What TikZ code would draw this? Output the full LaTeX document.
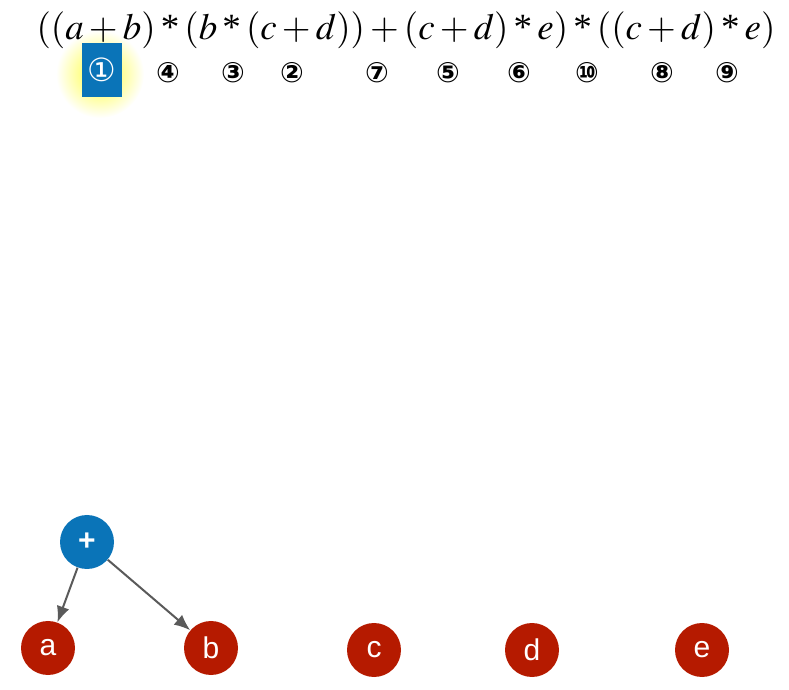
\documentclass[tikz,border=0pt]{standalone}
\usepackage{mathptmx}
\usepackage[no-math]{fontspec}
\setmainfont{Liberation Serif}
\newfontfamily\sansf{Liberation Sans}
\newfontfamily\dejavu{DejaVu Sans}
\usepackage{tikz}
\usetikzlibrary{arrows.meta}
\definecolor{opblue}{HTML}{0A74B8}
\definecolor{leafred}{HTML}{B51A00}
\definecolor{edgegray}{HTML}{5A5A5A}
\newcommand{\st}{\mathbin{\mbox{*}}}

\begin{document}
\begin{tikzpicture}[>={Latex[length=8pt,width=6.5pt]},x=0.5pt,y=-0.5pt,
    leaf/.style={circle,fill=leafred,text=white,minimum size=27pt,inner sep=0pt,font=\sansf\fontsize{15}{15}\selectfont},
    op/.style={circle,fill=opblue,text=white,minimum size=27pt,inner sep=0pt,font=\sansf\bfseries\fontsize{15}{15}\selectfont},
    order/.style={font=\dejavu\bfseries\fontsize{14}{14}\selectfont,inner sep=0pt}]
        \useasboundingbox (0,0) rectangle (789,690);

        % expression and evaluation order
        \shade[inner color=yellow!80,outer color=white] (100,74) circle (44);
        \node[font=\fontsize{18.5}{18.5}\selectfont,inner sep=0pt] (expr) at (406,30)
        {$((a+b)\st(b\st(c+d))+(c+d)\st e)\st((c+d)\st e)$};
        \node[fill=opblue,text=white,minimum width=20pt,minimum height=27pt,inner sep=0pt,
        font=\dejavu\fontsize{16}{16}\selectfont] (o1) at (102,70) {①};
        \node[order] (o4) at (168,73) {④};
        \node[order] (o3) at (233,73) {③};
        \node[order] (o2) at (292,73) {②};
        \node[order] (o7) at (377,73) {⑦};
        \node[order] (o5) at (448,73) {⑤};
        \node[order] (o6) at (519,73) {⑥};
        \node[order] (o10) at (587,73) {⑩};
        \node[order] (o8) at (662,73) {⑧};
        \node[order] (o9) at (727,73) {⑨};

        % tree
        \node[op] (plus) at (87,542) {+};
        \node[leaf] (a) at (48,648) {a};
        \node[leaf] (b) at (211,648) {b};
        \node[leaf] (c) at (374,650) {c};
        \node[leaf] (d) at (532,650) {d};
        \node[leaf] (e) at (702,650) {e};

        \draw[->,edgegray,line width=1pt] (plus)--(a);
        \draw[->,edgegray,line width=1pt] (plus)--(b);

    \end{tikzpicture}
\end{document}
